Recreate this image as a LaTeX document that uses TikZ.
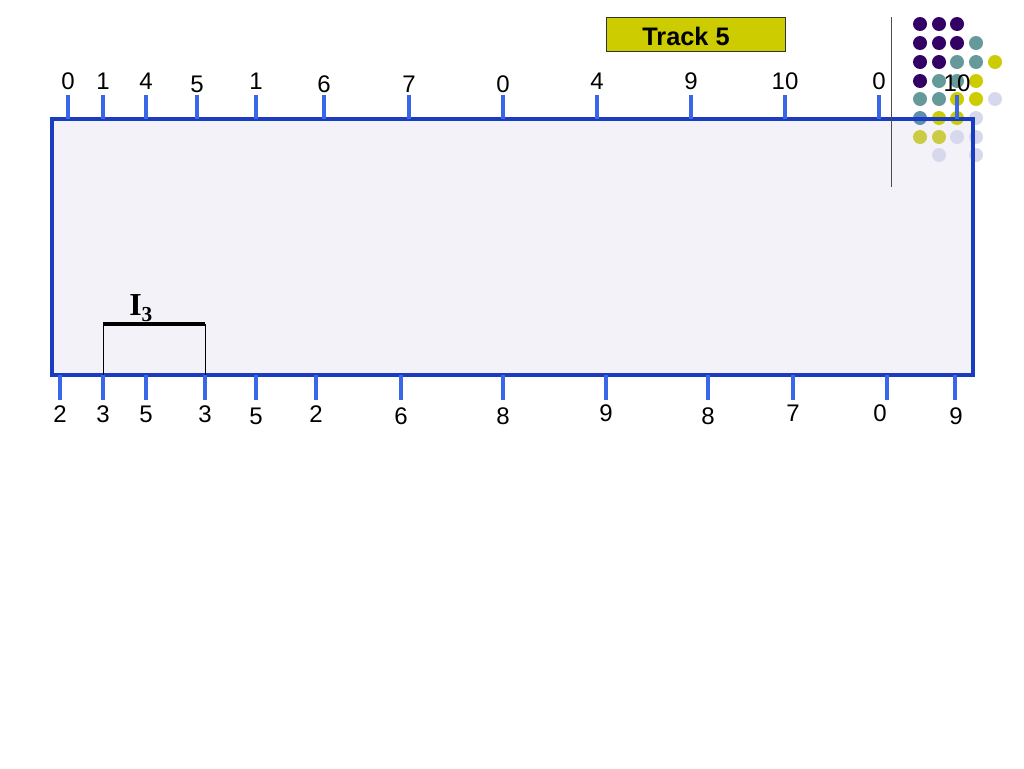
\documentclass[tikz,border=0pt]{standalone}
\usepackage{fontspec}
\setmainfont{Liberation Sans}
\newfontfamily\serifbold{Liberation Serif}
\usepackage{tikz}
\usetikzlibrary{positioning}

\definecolor{trackborder}{HTML}{1A3CC0}
\definecolor{trackfill}{HTML}{F2F2F8}
\definecolor{tickblue}{HTML}{3A66E8}
\definecolor{dotpurple}{HTML}{330066}
\definecolor{dotteal}{HTML}{669999}
\definecolor{dotsteel}{HTML}{5F8FAF}
\definecolor{dotyellow}{HTML}{CCCC00}
\definecolor{dotpale}{HTML}{CCCC44}
\definecolor{dotlav}{HTML}{D8D8EC}
\definecolor{tagyellow}{HTML}{CCCC00}

\tikzset{
  tickline/.style={draw=tickblue, line width=2.8pt},
  ticklabel/.style={font=\fontsize{18}{20}\selectfont, inner sep=0pt, anchor=base},
  dot/.style={fill=#1},
}

\begin{document}
\begin{tikzpicture}[x=0.75pt, y=-0.75pt]
  \useasboundingbox (0,0) rectangle (1024,768);

  % track body
  \fill[trackfill] (52,119) rectangle (973,375);

  % colour swatches
  \foreach \px/\py/\col in {920/24/dotpurple, 939/24/dotpurple, 957/24/dotpurple,
      920/43/dotpurple, 939/43/dotpurple, 957/43/dotpurple, 976/43/dotteal,
      920/62/dotpurple, 939/62/dotpurple, 957/62/dotteal, 976/62/dotteal, 995/62/dotyellow,
      920/81/dotpurple, 939/81/dotteal, 957/81/dotteal, 976/81/dotyellow,
      920/99/dotteal, 939/99/dotteal, 957/99/dotyellow, 976/99/dotyellow, 995/99/dotlav,
      920/118/dotsteel, 939/118/dotyellow, 957/118/dotyellow, 976/118/dotlav,
      920/137/dotpale, 939/137/dotpale, 957/137/dotlav, 976/137/dotlav,
      939/155/dotlav, 976/155/dotlav}
    \fill[dot=\col] (\px,\py) circle (7);

  \draw[trackborder, line width=2.4pt] (52,119) rectangle (973,375);

  % top sites
  \foreach \x/\lab/\ly [count=\i] in {68/0/89, 103/1/89, 146/4/89, 197/5/92, 256/1/89,
      324/6/92, 409/7/92, 503/0/92, 597/4/89, 691/9/89, 785/10/89, 879/0/89, 957/10/91} {
    \coordinate (top\i) at (\x,119);
    \coordinate (topend\i) at (\x,95);
    \draw[tickline] (top\i) -- (topend\i);
    \node[ticklabel] (toplab\i) at (\x,\ly) {\lab};
  }

  % bottom sites
  \foreach \x/\lx/\lab/\ly [count=\i] in {60/60/2/422, 103/103/3/422, 146/146/5/422,
      205/205/3/422, 256/256/5/424, 316/316/2/422, 401/401/6/424, 503/503/8/424,
      606/606/9/421, 708/708/8/424, 793/793/7/421, 887/880/0/421, 955/956/9/424} {
    \coordinate (bot\i) at (\x,375);
    \coordinate (botend\i) at (\x,400);
    \draw[tickline] (bot\i) -- (botend\i);
    \node[ticklabel] (botlab\i) at (\lx,\ly) {\lab};
  }

  % interval I3
  \coordinate (ileft) at (103,324);
  \coordinate (iright) at (205,324);
  \draw[line width=2.6pt] (ileft) -- (iright);
  \draw[line width=0.6pt] (ileft) -- (bot2);
  \draw[line width=0.6pt] (iright) -- (bot4);
  \node[inner sep=0pt, anchor=base west] (ilab) at (129,315)
    {\serifbold\bfseries\fontsize{24}{26}\selectfont I\raisebox{-5pt}{\fontsize{16}{18}\selectfont 3}};

  % track tag
  \node[draw=black!80, fill=tagyellow, line width=0.6pt, minimum width=179*0.75pt,
    minimum height=34*0.75pt, inner sep=0pt] (tag) at (695.5,34) {};
  \node[inner sep=0pt, anchor=base, font=\bfseries\fontsize{19}{21}\selectfont]
    (tagtext) at (686,45) {Track 5};

  % divider
  \coordinate (divtop) at (891,17);
  \coordinate (divbot) at (891,187);
  \draw[black!70, line width=0.6pt] (divtop) -- (divbot);
\end{tikzpicture}
\end{document}
